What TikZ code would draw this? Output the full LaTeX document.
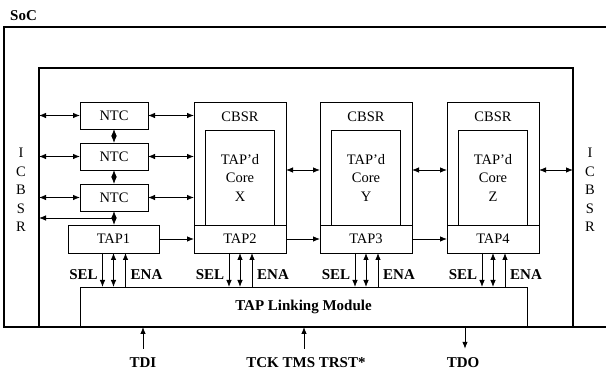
\documentclass[tikz,border=0pt]{standalone}
\usepackage{fontspec}
\setmainfont{Liberation Serif}
\usetikzlibrary{arrows.meta, positioning, calc}

\begin{document}
\begin{tikzpicture}[
    x=1pt, y=-1pt,
    node distance=14pt,
    font=\fontsize{14.5}{18.5}\selectfont,
    frame/.style={draw, line width=1.3pt, inner sep=0pt, outer sep=0pt},
    box/.style={draw, line width=0.8pt, inner sep=0pt, outer sep=0pt, align=center},
    ntcbox/.style={box, minimum width=68pt, minimum height=27pt},
    tapbox/.style={box, minimum width=92pt, minimum height=28pt},
    cbsrbox/.style={box, minimum width=92pt, minimum height=123pt},
    corebox/.style={box, minimum width=69pt, minimum height=95pt},
    sig/.style={font=\fontsize{15}{16}\selectfont\bfseries, inner sep=1pt},
    arr/.style={-{Latex[length=7pt,width=5.5pt]}, line width=0.8pt},
    dbl/.style={{Latex[length=7pt,width=5.5pt]}-{Latex[length=7pt,width=5.5pt]}, line width=0.8pt}
  ]
  \useasboundingbox (0,0) rectangle (606,374);
  % SoC boundary, open to the right
  \draw[line width=1.3pt] (606,27) -- (4,27) -- (4,327) -- (606,327);
  \node[sig, anchor=west] (soc) at (9,16) {SoC};
  \node[frame, minimum width=534pt, minimum height=259pt] (chip) at (306,197.5) {};
  \node[align=center] (icbsrL) at (21,190) {I\\C\\B\\S\\R};
  \node[align=center] (icbsrR) at (590,190) {I\\C\\B\\S\\R};

  % non-TAP'd cores
  \node[ntcbox] (ntc1) at (114,115.5) {NTC};
  \node[ntcbox, below=of ntc1] (ntc2) {NTC};
  \node[ntcbox, below=of ntc2] (ntc3) {NTC};
  \node[tapbox, minimum width=91pt] (tap1) at (113.5,239) {TAP1};

  % TAP'd cores
  \node[cbsrbox] (cbsrX) at (240,163.5) {};
  \node[cbsrbox, right=34pt of cbsrX] (cbsrY) {};
  \node[cbsrbox, right=35pt of cbsrY] (cbsrZ) {};
  \node at ([yshift=-15pt]cbsrX.north) {CBSR};
  \node at ([yshift=-15pt]cbsrY.north) {CBSR};
  \node at ([yshift=-15pt]cbsrZ.north) {CBSR};
  \node[corebox] (coreX) at ([yshift=-14pt]cbsrX.center) {TAP'd\\Core\\X};
  \node[corebox] (coreY) at ([yshift=-14pt]cbsrY.center) {TAP'd\\Core\\Y};
  \node[corebox] (coreZ) at ([yshift=-14pt]cbsrZ.center) {TAP'd\\Core\\Z};
  \node[tapbox, below=0pt of cbsrX] (tap2) {TAP2};
  \node[tapbox, below=0pt of cbsrY] (tap3) {TAP3};
  \node[tapbox, below=0pt of cbsrZ] (tap4) {TAP4};

  \node[box, minimum width=447pt, minimum height=40pt, font=\fontsize{15}{16}\selectfont\bfseries]
    (link) at (303.5,307) {TAP Linking Module};

  % ICBSR / NTC connections
  \draw[dbl] (chip.west |- ntc1.west) -- (ntc1.west);
  \draw[dbl] (chip.west |- ntc2.west) -- (ntc2.west);
  \draw[dbl] (chip.west |- ntc3.west) -- (ntc3.west);
  \draw[dbl] (ntc1.east) -- (ntc1.east -| cbsrX.west);
  \draw[dbl] (ntc2.east) -- (ntc2.east -| cbsrX.west);
  \draw[dbl] (ntc3.east) -- (ntc3.east -| cbsrX.west);
  \draw[dbl] (ntc1.south) -- (ntc2.north);
  \draw[dbl] (ntc2.south) -- (ntc3.north);
  \draw[dbl] (ntc3.south) -- (ntc3.south |- tap1.north);
  \coordinate (tap1in) at ($(ntc3.south)!0.5!(ntc3.south |- tap1.north)$);
  \draw[arr] (tap1in) -- (tap1in -| chip.west);

  % CBSR chain
  \coordinate (midrow) at (0,170);
  \draw[dbl] (cbsrX.east |- midrow) -- (cbsrY.west |- midrow);
  \draw[dbl] (cbsrY.east |- midrow) -- (cbsrZ.west |- midrow);
  \draw[dbl] (cbsrZ.east |- midrow) -- (chip.east |- midrow);

  % TAP chain
  \draw[arr] (tap1.east) -- (tap2.west);
  \draw[arr] (tap2.east) -- (tap3.west);
  \draw[arr] (tap3.east) -- (tap4.west);

  % SEL / ENA
  \draw[arr] ([xshift=-11pt]tap1.south) -- ([xshift=-11pt]tap1.south |- link.north);
  \draw[dbl] (tap1.south) -- (tap1.south |- link.north);
  \draw[arr] ([xshift=12pt]tap1.south |- link.north) -- ([xshift=12pt]tap1.south);
  \node[sig] at ([xshift=-30pt,yshift=-22pt]tap1.south) {SEL};
  \node[sig] at ([xshift=33pt,yshift=-22pt]tap1.south) {ENA};
  \draw[arr] ([xshift=-11pt]tap2.south) -- ([xshift=-11pt]tap2.south |- link.north);
  \draw[dbl] (tap2.south) -- (tap2.south |- link.north);
  \draw[arr] ([xshift=12pt]tap2.south |- link.north) -- ([xshift=12pt]tap2.south);
  \node[sig] at ([xshift=-30pt,yshift=-22pt]tap2.south) {SEL};
  \node[sig] at ([xshift=33pt,yshift=-22pt]tap2.south) {ENA};
  \draw[arr] ([xshift=-11pt]tap3.south) -- ([xshift=-11pt]tap3.south |- link.north);
  \draw[dbl] (tap3.south) -- (tap3.south |- link.north);
  \draw[arr] ([xshift=12pt]tap3.south |- link.north) -- ([xshift=12pt]tap3.south);
  \node[sig] at ([xshift=-30pt,yshift=-22pt]tap3.south) {SEL};
  \node[sig] at ([xshift=33pt,yshift=-22pt]tap3.south) {ENA};
  \draw[arr] ([xshift=-11pt]tap4.south) -- ([xshift=-11pt]tap4.south |- link.north);
  \draw[dbl] (tap4.south) -- (tap4.south |- link.north);
  \draw[arr] ([xshift=12pt]tap4.south |- link.north) -- ([xshift=12pt]tap4.south);
  \node[sig] at ([xshift=-30pt,yshift=-22pt]tap4.south) {SEL};
  \node[sig] at ([xshift=33pt,yshift=-22pt]tap4.south) {ENA};

  % chip pins
  \node[sig] (tdi) at (143,363) {TDI};
  \node[sig] (tms) at (306,363) {TCK\ TMS\ TRST*};
  \node[sig] (tdo) at (463,363) {TDO};
  \draw[arr] ([yshift=8pt]tdi.north) -- (tdi.north |- chip.south);
  \draw[arr] ([xshift=-2pt,yshift=8pt]tms.north) -- ([xshift=-2pt]tms.north |- chip.south);
  \draw[arr] ([xshift=2pt]tdo.north |- chip.south) -- ([xshift=2pt,yshift=8pt]tdo.north);
\end{tikzpicture}
\end{document}
